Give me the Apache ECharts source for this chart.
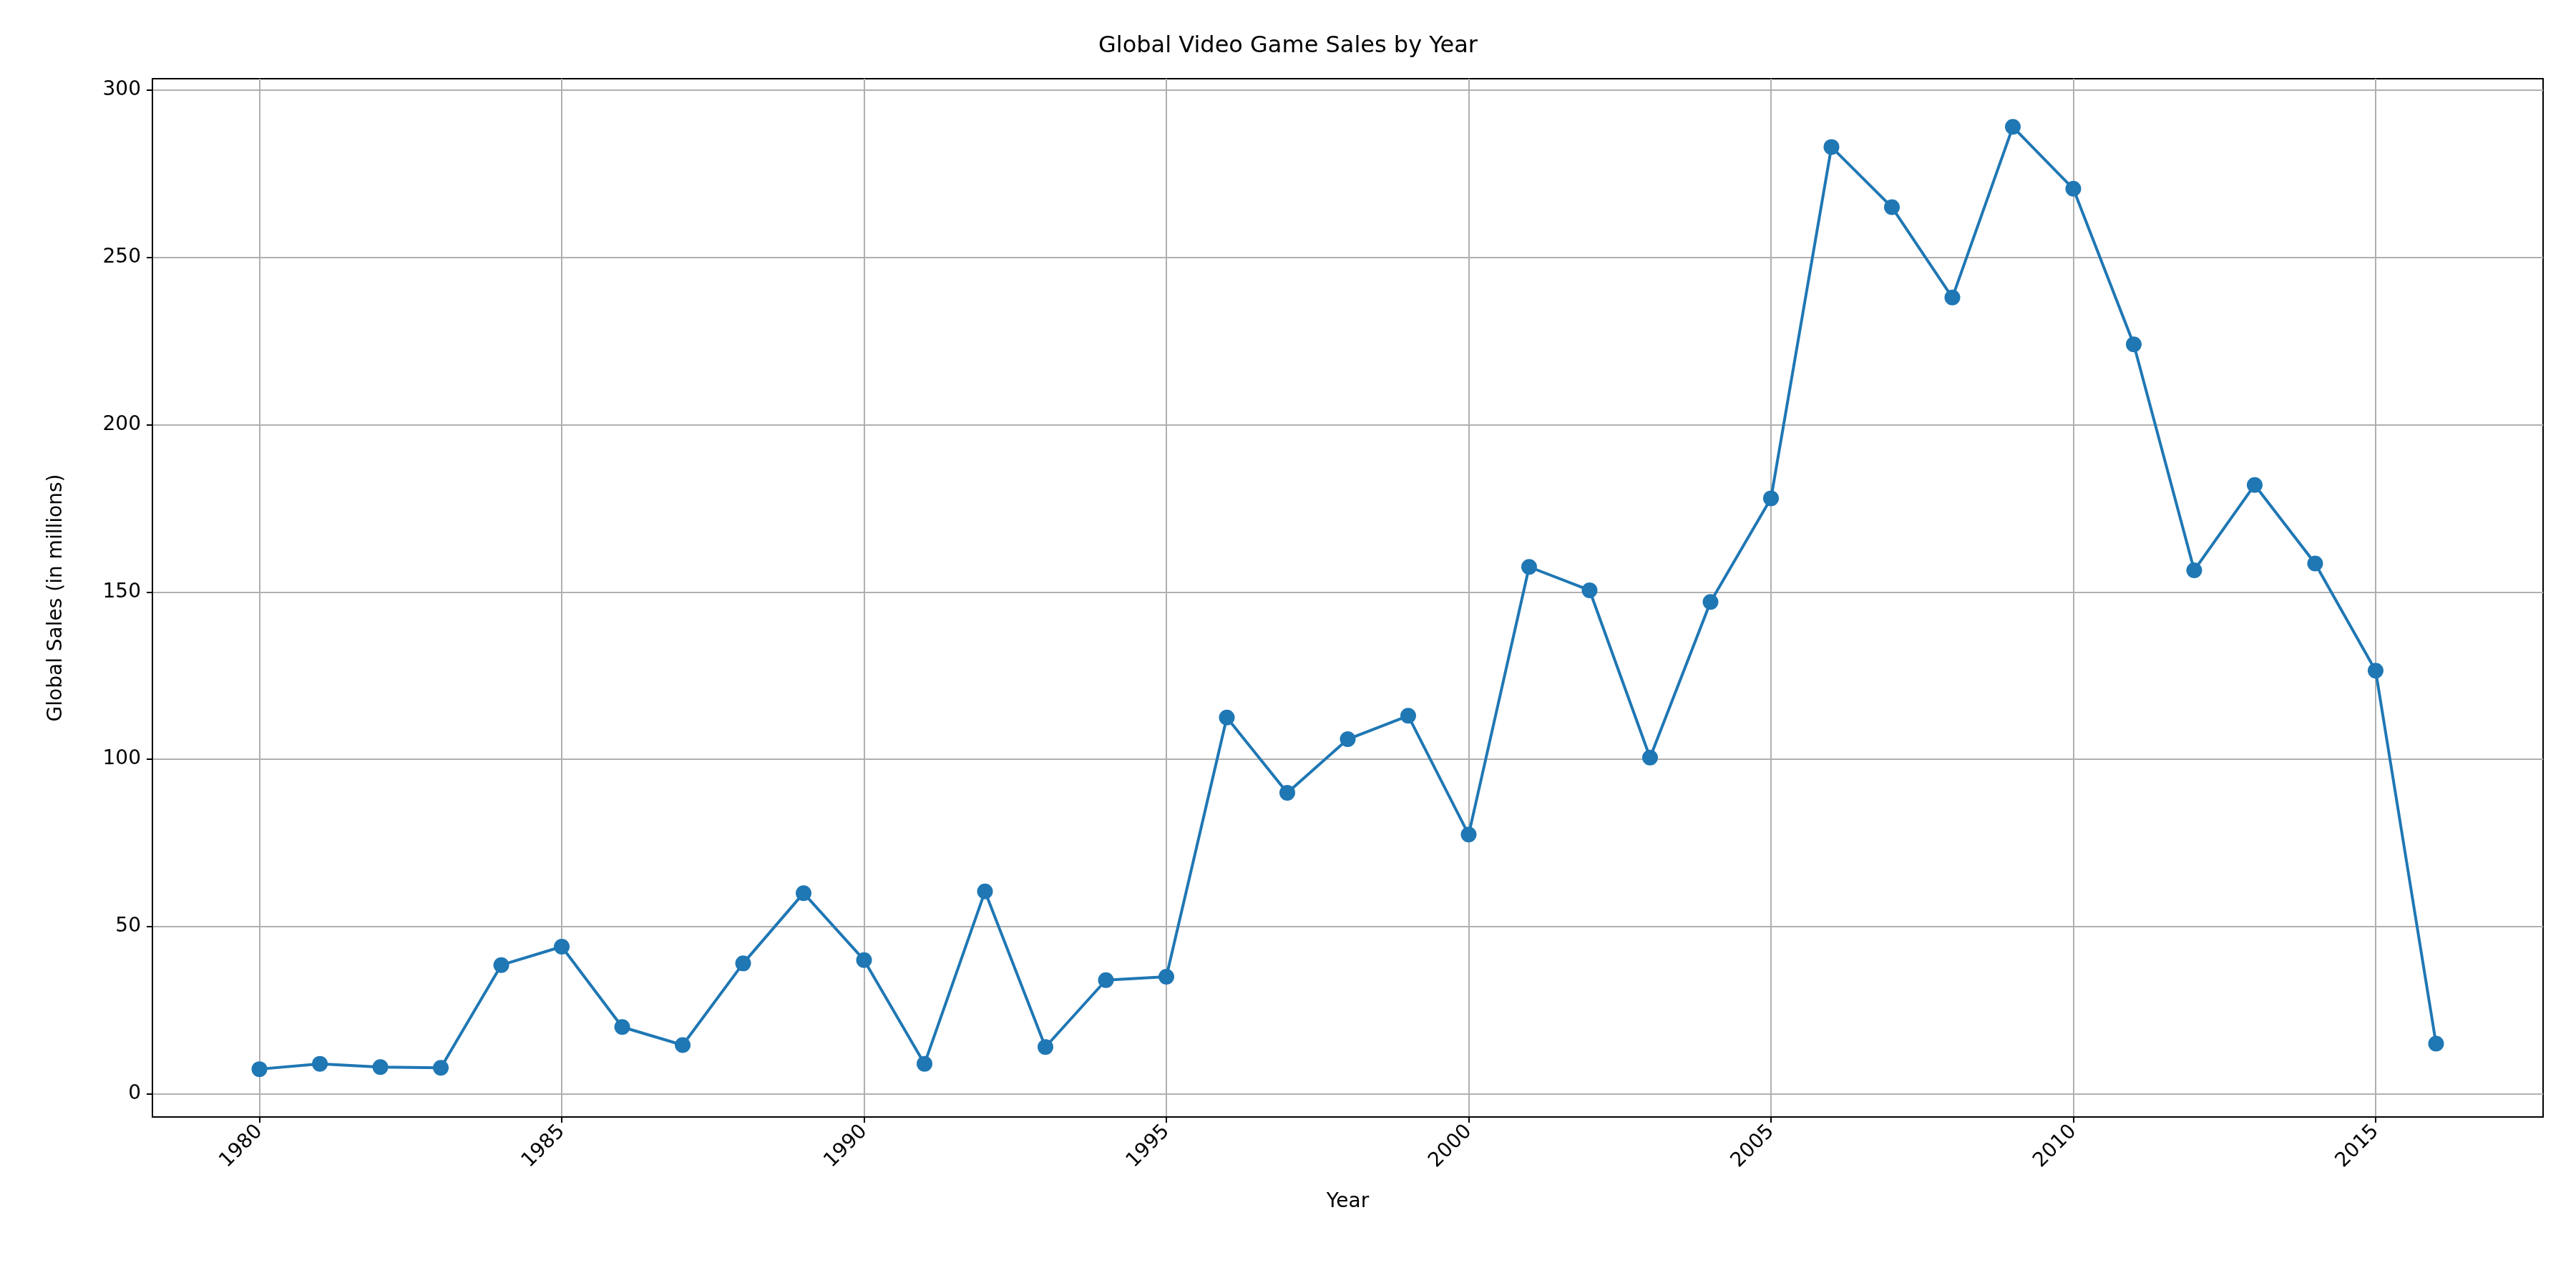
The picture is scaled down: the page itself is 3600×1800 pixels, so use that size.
<!DOCTYPE html>
<html>
<head>
<meta charset="utf-8">
<script src="https://cdn.jsdelivr.net/npm/echarts@6/dist/echarts.min.js"></script>
<style>html,body{margin:0;padding:0;background:#fff}#container{width:3600px;height:1800px}</style>
</head>
<body>
<div id="container"></div>
<script>
var years = [1980,1981,1982,1983,1984,1985,1986,1987,1988,1989,1990,1991,1992,1993,1994,1995,1996,1997,1998,
  1999,2000,2001,2002,2003,2004,2005,2006,2007,2008,2009,2010,2011,2012,2013,2014,2015,2016];
var sales = [7.4,9,8,7.8,38.5,44,20,14.6,39,60,40,9,60.5,14,34,35,112.5,90,106,
  113,77.5,157.5,150.5,100.5,147,178,283,265,238,289,270.5,224,156.5,182,158.5,126.5,15];
var xTicks = [1980,1985,1990,1995,2000,2005,2010,2015];
var yTicks = [0,50,100,150,200,250,300];

var points = years.map(function (y, i) { return [y, sales[i]]; });
var myChart = echarts.init(document.getElementById('container'));
var font = 'DejaVu Sans';
myChart.setOption({
  animation: false,
  title: {text: 'Global Video Game Sales by Year', left: 'center', top: 44,
    textStyle: {fontFamily: font, fontSize: 32, fontWeight: 'normal', color: '#000'}},
  grid: {left: 213, right: 46, top: 110, bottom: 239, show: true, borderColor: '#000', borderWidth: 2},
  xAxis: {
    type: 'value', min: 1978.23, max: 2017.77,
    name: 'Year', nameLocation: 'middle', nameGap: 105,
    nameTextStyle: {fontFamily: font, fontSize: 28, color: '#000'},
    axisLine: {show: true, onZero: false, lineStyle: {color: '#000', width: 2}},
    axisTick: {show: true, length: 8, customValues: xTicks, lineStyle: {color: '#000', width: 2}},
    axisLabel: {customValues: xTicks, rotate: 45, margin: 16, fontFamily: font, fontSize: 28, color: '#000',
      formatter: function (v) { return String(v); }},
    splitLine: {show: true, lineStyle: {color: '#b0b0b0', width: 2}}
  },
  yAxis: {
    type: 'value', min: -6.9, max: 303.4,
    name: 'Global Sales (in millions)', nameLocation: 'middle', nameGap: 120,
    nameTextStyle: {fontFamily: font, fontSize: 28, color: '#000'},
    axisLine: {show: true, onZero: false, lineStyle: {color: '#000', width: 2}},
    axisTick: {show: true, length: 8, customValues: yTicks, lineStyle: {color: '#000', width: 2}},
    axisLabel: {customValues: yTicks, margin: 16, fontFamily: font, fontSize: 28, color: '#000'},
    splitLine: {show: true, lineStyle: {color: '#b0b0b0', width: 2}}
  },
  series: [{
    type: 'line', data: points, symbol: 'circle', symbolSize: 22,
    lineStyle: {color: '#1f77b4', width: 4},
    itemStyle: {color: '#1f77b4'}
  }]
});
</script>
</body>
</html>
